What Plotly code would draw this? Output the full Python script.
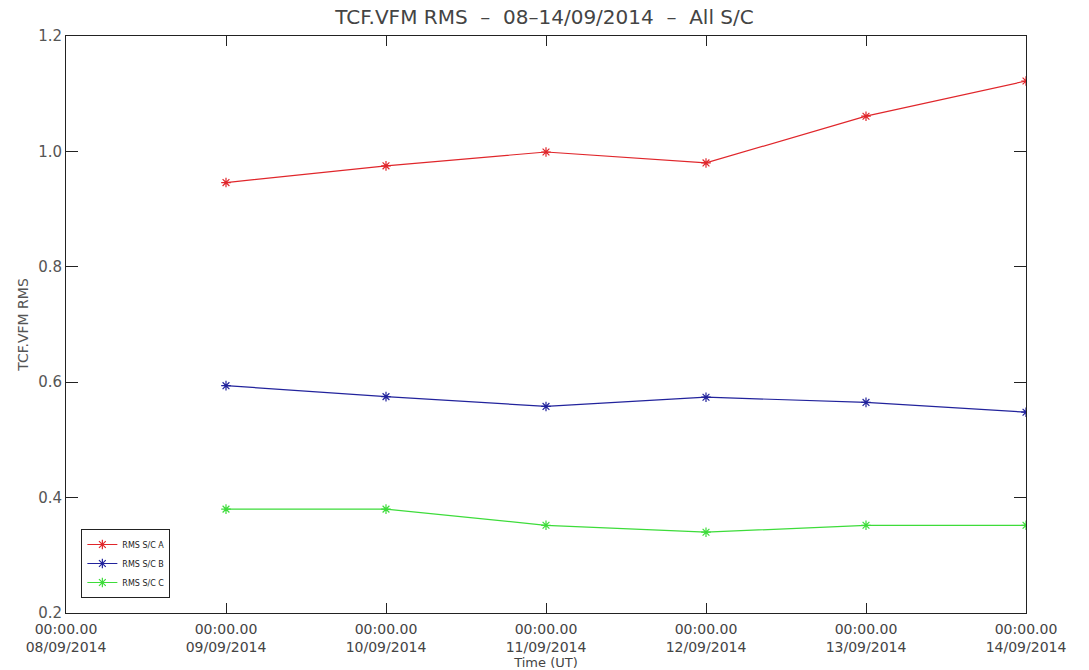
import plotly.graph_objects as go

dates = ["2014-09-09", "2014-09-10", "2014-09-11", "2014-09-12", "2014-09-13", "2014-09-14"]
rms_a = [0.946, 0.975, 0.999, 0.980, 1.061, 1.122]
rms_b = [0.594, 0.575, 0.558, 0.574, 0.565, 0.548]
rms_c = [0.380, 0.380, 0.352, 0.340, 0.352, 0.352]

tick_vals = ["2014-09-08", "2014-09-09", "2014-09-10", "2014-09-11", "2014-09-12", "2014-09-13", "2014-09-14"]
tick_text = ["00:00.00<br>08/09/2014", "00:00.00<br>09/09/2014", "00:00.00<br>10/09/2014",
             "00:00.00<br>11/09/2014", "00:00.00<br>12/09/2014", "00:00.00<br>13/09/2014",
             "00:00.00<br>14/09/2014"]

series = [("RMS S/C A", rms_a, "#e0262b"), ("RMS S/C B", rms_b, "#22239c"), ("RMS S/C C", rms_c, "#3ddc3a")]

fig = go.Figure()
for name, vals, col in series:
    fig.add_trace(go.Scatter(
        x=dates, y=vals, name=name, mode="lines+markers",
        line=dict(color=col, width=1.2),
        marker=dict(symbol="asterisk-open", size=8, line=dict(color=col, width=1.2), color=col),
    ))

font_main = "DejaVu Sans"
fig.update_layout(
    width=1089, height=670,
    margin=dict(l=66, r=63, t=36, b=57, autoexpand=False),
    paper_bgcolor="white", plot_bgcolor="white",
    title=dict(text="TCF.VFM RMS  \u2013  08\u201314/09/2014  \u2013  All S/C", x=0.5, xanchor="center",
               y=0.985, yanchor="top", font=dict(family=font_main, size=20, color="#444")),
    font=dict(family=font_main, color="#444"),
    showlegend=True,
    legend=dict(x=0.016, y=0.026, xanchor="left", yanchor="bottom",
                bordercolor="#222", borderwidth=1, bgcolor="white",
                font=dict(size=8, color="#222"), tracegroupgap=0, itemwidth=30),
    xaxis=dict(type="date", range=["2014-09-08", "2014-09-14"],
               tickmode="array", tickvals=tick_vals, ticktext=tick_text,
               ticks="inside", ticklen=10, tickcolor="#222",
               showline=True, linecolor="#222", linewidth=1, mirror="ticks",
               showgrid=False, zeroline=False, ticklabelstandoff=3,
               tickfont=dict(size=14, color="#444"),
               title=dict(text="Time (UT)", font=dict(size=13, color="#444"), standoff=0)),
    yaxis=dict(range=[0.2, 1.2], tickvals=[0.2, 0.4, 0.6, 0.8, 1.0, 1.2],
               ticktext=["0.2", "0.4", "0.6", "0.8", "1.0", "1.2"],
               ticks="inside", ticklen=12, tickcolor="#222",
               showline=True, linecolor="#222", linewidth=1, mirror="ticks",
               showgrid=False, zeroline=False,
               tickfont=dict(size=15, color="#555"),
               title=dict(text="TCF.VFM RMS", font=dict(size=14, color="#555"), standoff=6)),
)

fig.write_html("out.html")
